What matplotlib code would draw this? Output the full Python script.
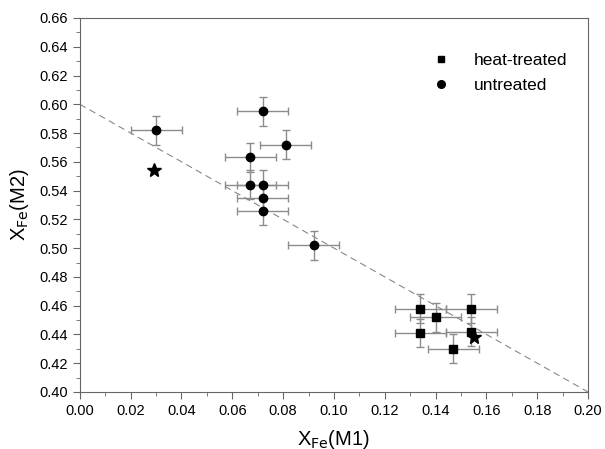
import numpy as np
import matplotlib
matplotlib.use("Agg")
import matplotlib.pyplot as plt
from matplotlib.ticker import MultipleLocator
from matplotlib.lines import Line2D

plt.rcParams['font.family'] = ['Liberation Sans', 'DejaVu Sans']

# heat-treated samples (squares)
heat_x = [0.134, 0.154, 0.140, 0.134, 0.154, 0.147]
heat_y = [0.458, 0.458, 0.452, 0.441, 0.442, 0.430]
heat_xerr = [0.01, 0.01, 0.01, 0.01, 0.01, 0.01]
heat_yerr = [0.01, 0.01, 0.01, 0.01, 0.01, 0.01]

# untreated samples (circles)
untr_x = [0.030, 0.072, 0.081, 0.067, 0.067, 0.072, 0.072, 0.072, 0.092]
untr_y = [0.582, 0.595, 0.572, 0.563, 0.544, 0.544, 0.535, 0.526, 0.502]
untr_xerr = [0.01] * 9
untr_yerr = [0.01] * 9

# reference points (stars)
star_x = [0.029, 0.155]
star_y = [0.554, 0.438]

# dashed reference line
line_x = [0.0, 0.20]
line_y = [0.60, 0.40]

fig = plt.figure(figsize=(6.05, 4.49), dpi=100)
ax = fig.add_axes([0.132, 0.127, 0.840, 0.833])

ax.plot(line_x, line_y, linestyle=(0, (6, 4)), color='#888888', linewidth=0.8, zorder=1)

ebkw = dict(ecolor='#8c8c8c', elinewidth=1.0, capsize=3, capthick=1.0, linestyle='none', zorder=2)
ax.errorbar(heat_x, heat_y, xerr=heat_xerr, yerr=heat_yerr, fmt='s', color='black',
            markersize=5.5, **ebkw)
ax.errorbar(untr_x, untr_y, xerr=untr_xerr, yerr=untr_yerr, fmt='o', color='black',
            markersize=6, **ebkw)
ax.plot(star_x, star_y, '*', color='black', markersize=10, linestyle='none', zorder=3)

ax.set_xlim(0.0, 0.20)
ax.set_ylim(0.40, 0.66)
ax.xaxis.set_major_locator(MultipleLocator(0.02))
ax.xaxis.set_minor_locator(MultipleLocator(0.01))
ax.yaxis.set_major_locator(MultipleLocator(0.02))
ax.yaxis.set_minor_locator(MultipleLocator(0.01))
ax.xaxis.set_major_formatter(plt.FormatStrFormatter('%.2f'))
ax.yaxis.set_major_formatter(plt.FormatStrFormatter('%.2f'))
ax.tick_params(which='both', direction='out', color='#666666', labelsize=10.5)
ax.tick_params(which='major', length=5)
ax.tick_params(which='minor', length=3)
for s in ax.spines.values():
    s.set_color('#666666')

ax.set_xlabel(r'X$_{\mathrm{Fe}}$(M1)', fontsize=14.5, labelpad=7)
ax.set_ylabel(r'X$_{\mathrm{Fe}}$(M2)', fontsize=14.5, labelpad=6)

handles = [Line2D([], [], marker='s', color='black', linestyle='none', markersize=5),
           Line2D([], [], marker='o', color='black', linestyle='none', markersize=5.5)]
ax.legend(handles, ['heat-treated', 'untreated'], loc='upper right',
          bbox_to_anchor=(0.99, 0.948), frameon=False, fontsize=12.5,
          handletextpad=1.3, labelspacing=0.55, handlelength=1.2)

fig.savefig('out.png', dpi=100)
